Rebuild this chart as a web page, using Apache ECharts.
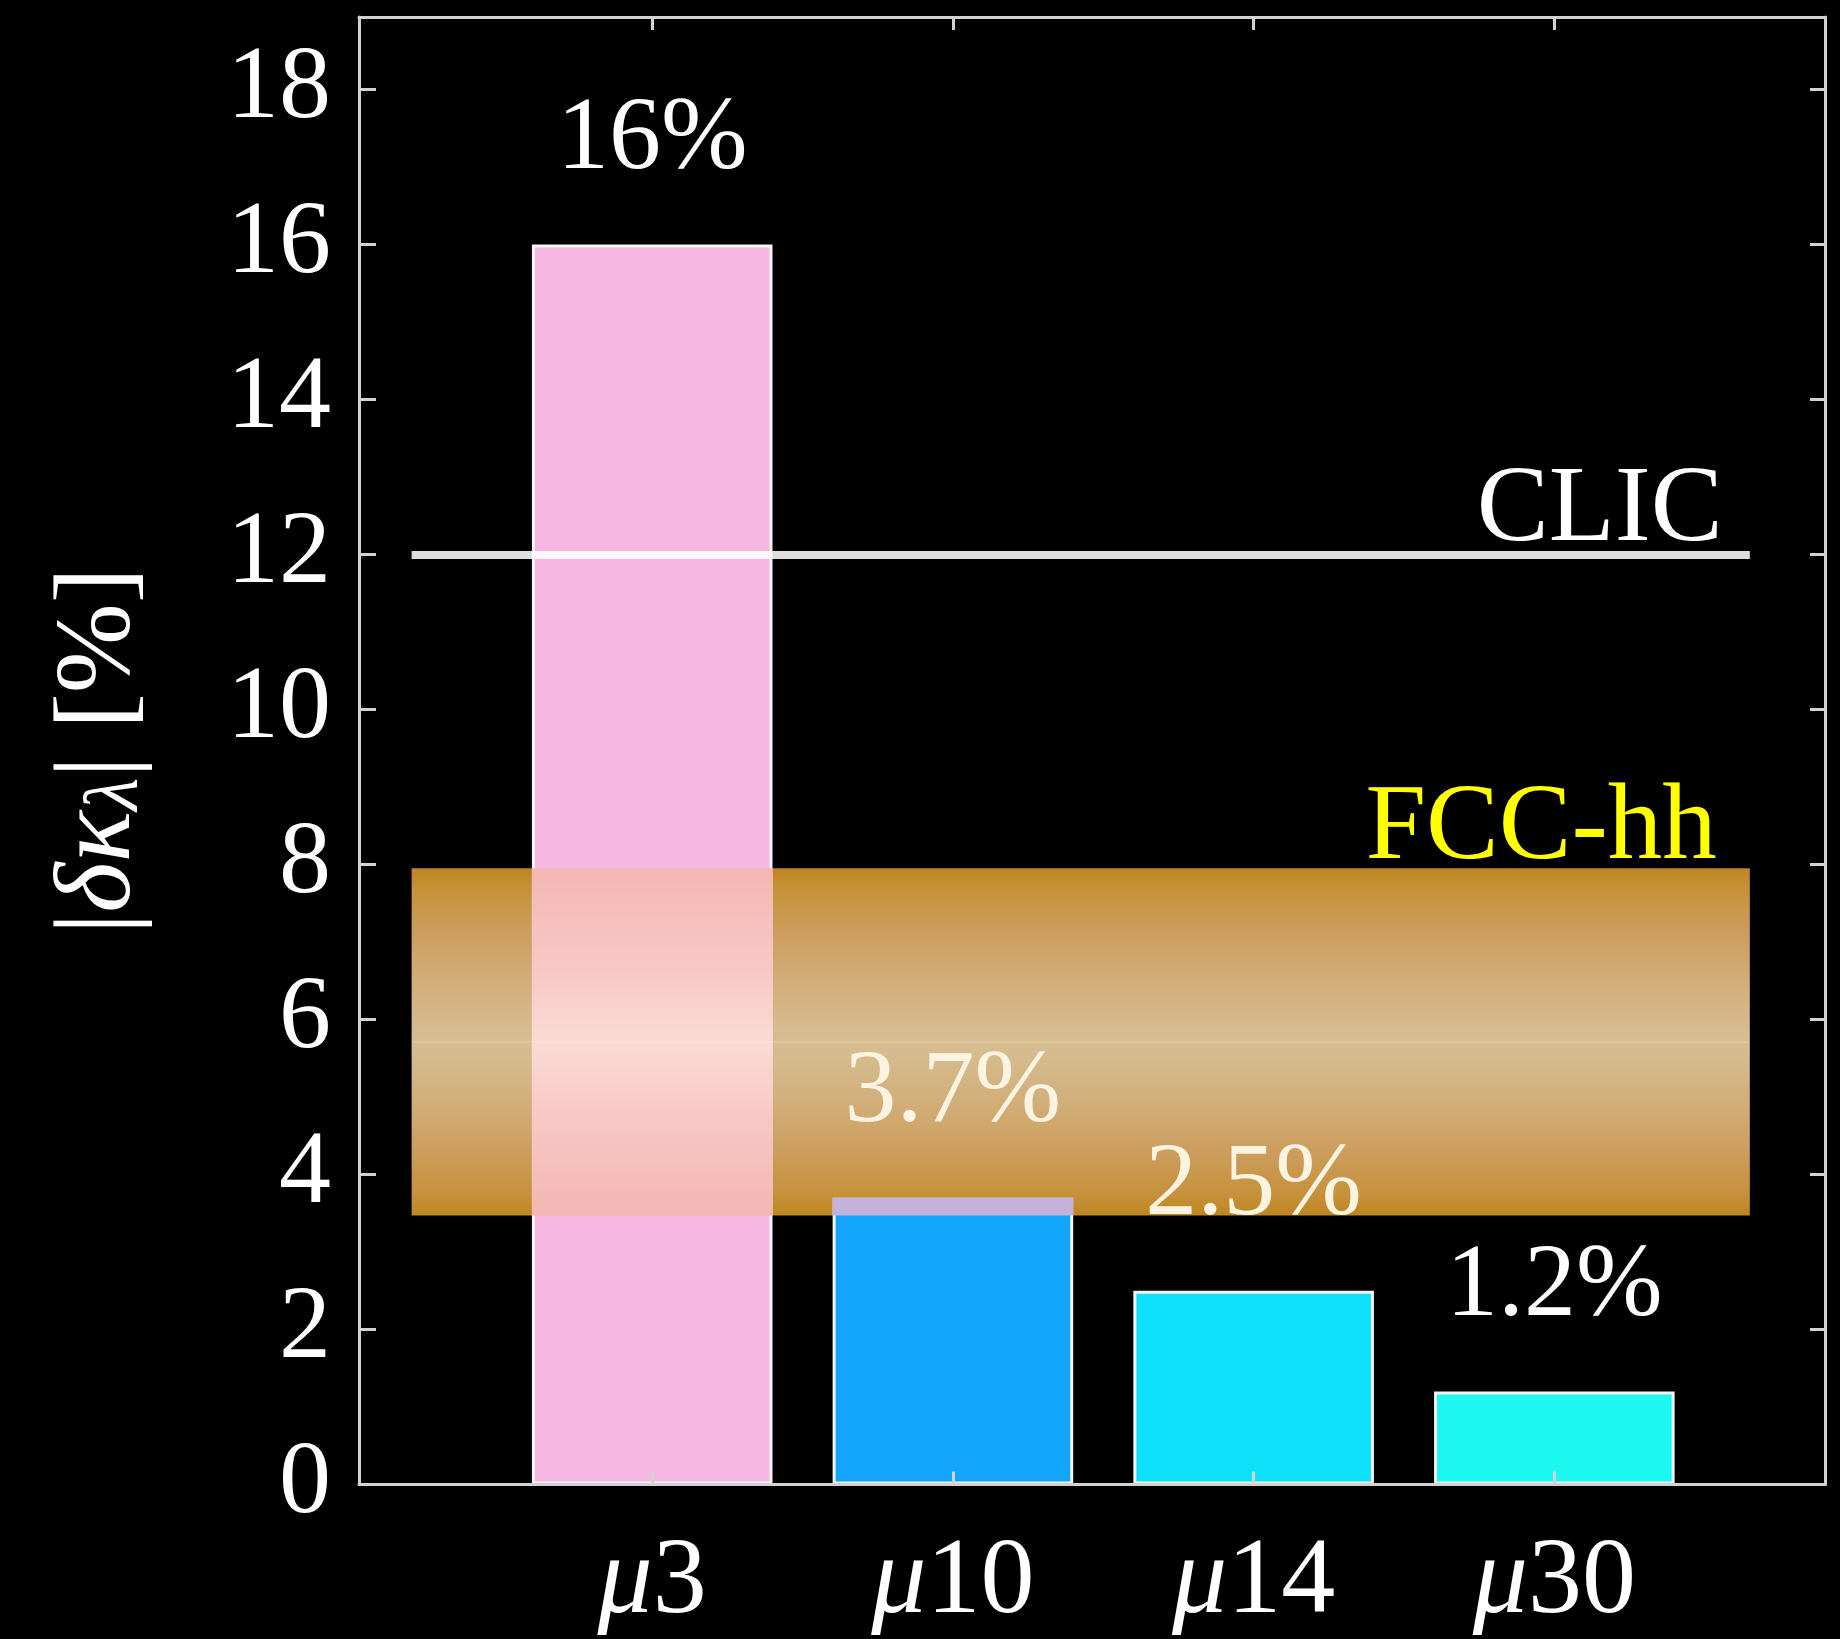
<!DOCTYPE html>
<html><head><meta charset="utf-8">
<script src="https://cdn.jsdelivr.net/npm/echarts@6/dist/echarts.min.js"></script>
<style>html,body{margin:0;padding:0;background:#000;}#c{width:1840px;height:1639px;}</style>
</head><body><div id="c"></div>
<script>
// ---- data ----
const categories = ['μ3', 'μ10', 'μ14', 'μ30'];
const values = [16, 3.7, 2.5, 1.2];
const valueLabels = ['16%', '3.7%', '2.5%', '1.2%'];
const yTickLabels = ['0', '2', '4', '6', '8', '10', '12', '14', '16', '18'];
const clicLevel = 12;
const fccBand = [3.47, 7.95];
const refXRange = [0.2, 4.65];
const xRange = [0.025, 4.9];
const yRange = [0, 18.935];

// ---- style ----
const barColors = ['#f6b7e2', '#13a5fc', '#0ee0fa', '#1cf8f0'];
const labelColors = ['#ffffff', '#fcf3e1', '#fcf3e1', '#ffffff'];
const FONT = '"Liberation Serif", "DejaVu Serif", serif';
const frameColor = '#d2d2d2';
const grid = { left: 359, right: 15, top: 17, bottom: 154.5 };
const plotW = 1840 - grid.left - grid.right;
const unitPx = plotW / (xRange[1] - xRange[0]);
const barFrac = 0.8;
const barW = barFrac * unitPx;

const bandGradient = {
  type: 'linear', x: 0, y: 0, x2: 0, y2: 1,
  colorStops: [
    { offset: 0, color: '#bf851f' }, { offset: 0.06, color: '#c6913a' },
    { offset: 0.18, color: '#cc9d5c' }, { offset: 0.32, color: '#d2ad78' },
    { offset: 0.44, color: '#d5b98b' }, { offset: 0.497, color: '#d6be91' },
    { offset: 0.5, color: '#e6cea4' }, { offset: 0.503, color: '#d6be91' },
    { offset: 0.56, color: '#d5b98b' }, { offset: 0.68, color: '#d2ad78' },
    { offset: 0.82, color: '#cc9d5c' }, { offset: 0.94, color: '#c6913a' },
    { offset: 1, color: '#bf851f' }
  ]
};
const pinkOverlap = {
  type: 'linear', x: 0, y: 0, x2: 0, y2: 1,
  colorStops: [
    { offset: 0, color: '#f4b6b2' }, { offset: 0.15, color: '#f6c0bd' },
    { offset: 0.3, color: '#f8c8c6' }, { offset: 0.42, color: '#f9d4cf' },
    { offset: 0.497, color: '#f9dbd4' }, { offset: 0.5, color: '#fbe3d7' },
    { offset: 0.503, color: '#f9dbd4' }, { offset: 0.58, color: '#f9d4cf' },
    { offset: 0.7, color: '#f8c8c6' }, { offset: 0.85, color: '#f6c0bd' },
    { offset: 1, color: '#f4b6b2' }
  ]
};
const overlapColors = [pinkOverlap, '#c4b2dc', '#c4b2dc', '#c4b2dc'];

const overlaps = [];
values.forEach((v, i) => {
  if (v > fccBand[0]) {
    const pos = i + 1;
    overlaps.push([
      { coord: [pos - barFrac / 2, Math.min(v, fccBand[1])], itemStyle: { color: overlapColors[i] } },
      { coord: [pos + barFrac / 2, fccBand[0]] }
    ]);
  }
});

const catValues = categories.map((c, i) => i + 1);
const lineStyle = { color: frameColor, width: 3 };

const chart = echarts.init(document.getElementById('c'), null, { renderer: 'canvas' });
chart.setOption({
  backgroundColor: '#000',
  animation: false,
  grid: { left: grid.left, right: grid.right, top: grid.top, bottom: grid.bottom },
  xAxis: [
    {
      type: 'value', min: xRange[0], max: xRange[1], position: 'bottom', z: 10,
      axisLine: { show: true, onZero: false, lineStyle },
      axisTick: { show: true, inside: true, length: 13, customValues: catValues, lineStyle },
      splitLine: { show: false },
      axisLabel: {
        show: true, customValues: catValues, margin: 44,
        formatter: v => {
          const c = categories[Math.round(v) - 1] || '';
          return '{m|' + c.charAt(0) + '}{d|' + c.slice(1) + '}';
        },
        rich: {
          m: { fontStyle: 'italic', fontSize: 110, color: '#fff', fontFamily: FONT },
          d: { fontSize: 108, color: '#fff', fontFamily: FONT }
        }
      }
    },
    {
      type: 'value', min: xRange[0], max: xRange[1], position: 'top', z: 10,
      axisLine: { show: true, onZero: false, lineStyle },
      axisTick: { show: true, inside: true, length: 13, customValues: catValues, lineStyle },
      splitLine: { show: false },
      axisLabel: { show: false }
    }
  ],
  yAxis: [
    {
      type: 'value', min: yRange[0], max: yRange[1], interval: 2, position: 'left', z: 10,
      axisLine: { show: true, onZero: false, lineStyle },
      axisTick: { show: true, inside: true, length: 17, lineStyle },
      splitLine: { show: false },
      axisLabel: {
        show: true, showMaxLabel: false, margin: 28, color: '#fff', fontSize: 104,
        fontFamily: FONT, padding: [0, 0, 15, 0],
        formatter: v => { const k = Math.round(v / 2); return (Math.abs(v - 2 * k) < 1e-6) ? (yTickLabels[k] || '') : ''; }
      },
      name: '{n||}{i|δκ}{s|λ}{n|| [%]}',
      nameLocation: 'middle', nameGap: 204,
      nameTextStyle: {
        color: '#fff', fontFamily: FONT, fontSize: 108,
        rich: {
          n: { fontSize: 108, lineHeight: 108, verticalAlign: 'top', color: '#fff', fontFamily: FONT },
          i: { fontSize: 108, lineHeight: 108, verticalAlign: 'top', fontStyle: 'italic', color: '#fff', fontFamily: FONT },
          s: { fontSize: 76, lineHeight: 76, verticalAlign: 'bottom', padding: [52, 0, 0, 0], fontStyle: 'italic', color: '#fff', fontFamily: FONT }
        }
      }
    },
    {
      type: 'value', min: yRange[0], max: yRange[1], interval: 2, position: 'right', z: 10,
      axisLine: { show: true, onZero: false, lineStyle },
      axisTick: { show: true, inside: true, length: 15, lineStyle },
      splitLine: { show: false },
      axisLabel: { show: false }
    }
  ],
  series: [
    {
      type: 'bar', xAxisIndex: 0, yAxisIndex: 0, z: 2,
      barWidth: barW,
      data: values.map((v, i) => ({
        value: [i + 1, v],
        itemStyle: { color: barColors[i] },
        label: { color: labelColors[i] }
      })),
      itemStyle: { borderColor: '#f4f4f4', borderWidth: 3 },
      label: {
        show: true, position: 'top', distance: 52, color: '#fff', fontSize: 104, fontFamily: FONT,
        formatter: p => valueLabels[p.dataIndex]
      },
      markArea: {
        silent: true, z: 1,
        itemStyle: { color: bandGradient, borderWidth: 0 },
        label: {
          show: true, formatter: 'FCC-hh', color: '#ffff00', fontSize: 109, fontFamily: FONT,
          position: ['100%', 0], align: 'right', verticalAlign: 'bottom', offset: [-33, 16]
        },
        data: [[{ coord: [refXRange[0], fccBand[1]] }, { coord: [refXRange[1], fccBand[0]] }]]
      },
      markLine: {
        silent: true, z: 5, symbol: ['none', 'none'],
        lineStyle: { color: 'rgba(255,255,255,0.87)', width: 8, type: 'solid' },
        label: {
          show: true, formatter: 'CLIC', position: 'insideEndTop', distance: [27, -11],
          color: '#ffffff', fontSize: 108, fontFamily: FONT
        },
        data: [[{ coord: [refXRange[0], clicLevel] }, { coord: [refXRange[1], clicLevel] }]]
      }
    },
    {
      type: 'line', xAxisIndex: 0, yAxisIndex: 0, data: [], silent: true, z: 3,
      markArea: { silent: true, z: 3, itemStyle: { borderWidth: 0 }, label: { show: false }, data: overlaps }
    }
  ]
});
</script></body></html>
